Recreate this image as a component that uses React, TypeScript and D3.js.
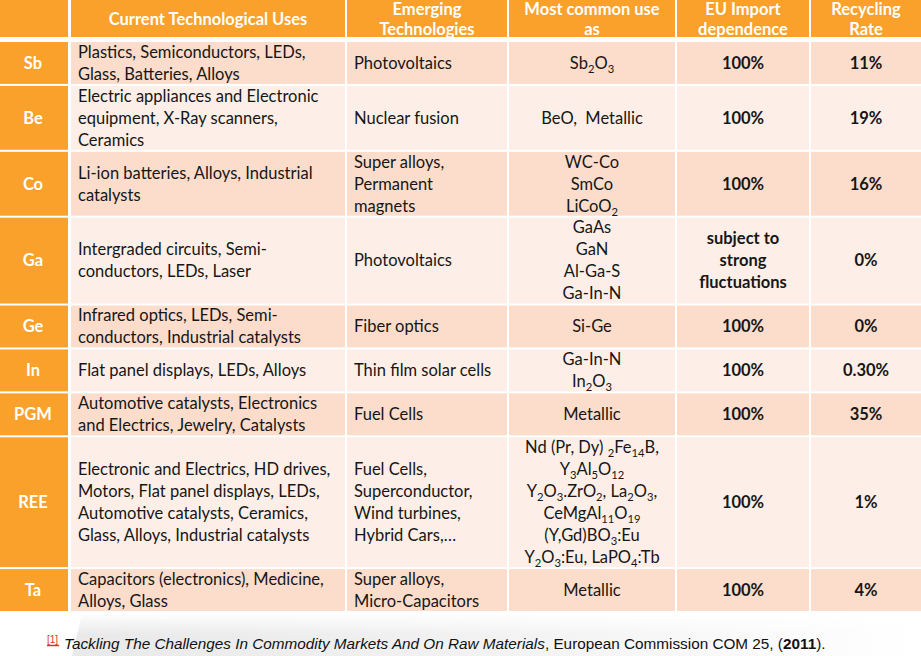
import React from "react";
import * as d3 from "d3";

// table content, one entry per element row
const elements = ["Sb", "Be", "Co", "Ga", "Ge", "In", "PGM", "REE", "Ta"];

const headers = [
  [""],
  ["Current Technological Uses"],
  ["Emerging", "Technologies"],
  ["Most common use", "as"],
  ["EU Import", "dependence"],
  ["Recycling", "Rate"],
];

const currentUses = [
  ["Plastics, Semiconductors, LEDs,", "Glass, Batteries, Alloys"],
  ["Electric appliances and Electronic", "equipment, X-Ray scanners,", "Ceramics"],
  ["Li-ion batteries, Alloys, Industrial", "catalysts"],
  ["Intergraded circuits, Semi-", "conductors, LEDs, Laser"],
  ["Infrared optics, LEDs, Semi-", "conductors, Industrial catalysts"],
  ["Flat panel displays, LEDs, Alloys"],
  ["Automotive catalysts, Electronics", "and Electrics, Jewelry, Catalysts"],
  [
    "Electronic and Electrics, HD drives,",
    "Motors, Flat panel displays, LEDs,",
    "Automotive catalysts, Ceramics,",
    "Glass, Alloys, Industrial catalysts",
  ],
  ["Capacitors (electronics), Medicine,", "Alloys, Glass"],
];

const emergingTech = [
  ["Photovoltaics"],
  ["Nuclear fusion"],
  ["Super alloys,", "Permanent", "magnets"],
  ["Photovoltaics"],
  ["Fiber optics"],
  ["Thin film solar cells"],
  ["Fuel Cells"],
  ["Fuel Cells,", "Superconductor,", "Wind turbines,", "Hybrid Cars,…"],
  ["Super alloys,", "Micro-Capacitors"],
];

// {n} marks a subscript
const commonUse = [
  ["Sb{2}O{3}"],
  ["BeO,\u00a0 Metallic"],
  ["WC-Co", "SmCo", "LiCoO{2}"],
  ["GaAs", "GaN", "Al-Ga-S", "Ga-In-N"],
  ["Si-Ge"],
  ["Ga-In-N", "In{2}O{3}"],
  ["Metallic"],
  [
    "Nd (Pr, Dy) {2}Fe{14}B,",
    "Y{3}Al{5}O{12}",
    "Y{2}O{3}.ZrO{2}, La{2}O{3},",
    "CeMgAl{11}O{19}",
    "(Y,Gd)BO{3}:Eu",
    "Y{2}O{3}:Eu, LaPO{4}:Tb",
  ],
  ["Metallic"],
];

const importDependence = [
  ["100%"],
  ["100%"],
  ["100%"],
  ["subject to", "strong", "fluctuations"],
  ["100%"],
  ["100%"],
  ["100%"],
  ["100%"],
  ["100%"],
];

const recyclingRate = ["11%", "19%", "16%", "0%", "0%", "0.30%", "35%", "1%", "4%"];

const W = 921;
const H = 656;
const ORANGE = "#f9a12b";
const DARK = "#fcddcb";
const LIGHT = "#fdefe7";
const INK = "#161616";
const FONT = "Lato, 'Open Sans', sans-serif";
const LINE = 22;

// column edges [x0, x1]
const cols: [number, number][] = [
  [0, 68],
  [71, 345],
  [347, 507],
  [509, 675],
  [677, 809],
  [811, 921],
];

function Rich({ s, x, y, anchor, weight, size }: any) {
  const parts = s.split(/(\{[^}]+\})/).filter((p: string) => p !== "");
  let shifted = false;
  return (
    <text x={x} y={y} textAnchor={anchor} fontWeight={weight} fontSize={size} fill={INK} fontFamily={FONT}>
      {parts.map((p: string, i: number) => {
        if (p.startsWith("{")) {
          shifted = true;
          return (
            <tspan key={i} dy={4} fontSize={size * 0.68}>
              {p.slice(1, -1)}
            </tspan>
          );
        }
        const dy = shifted ? -4 : 0;
        shifted = false;
        return (
          <tspan key={i} dy={dy}>
            {p}
          </tspan>
        );
      })}
    </text>
  );
}

export default function App() {
  const rows = elements.map((el, i) => ({
    el,
    cells: [currentUses[i], emergingTech[i], commonUse[i], importDependence[i], [recyclingRate[i]]],
  }));
  const counts = rows.map((r) => d3.max(r.cells, (c) => c.length) as number);
  const starts = d3.cumsum([0, ...counts]);
  const y = d3.scaleLinear().domain([0, d3.sum(counts)]).range([42, 613]);

  const fs = 16.5;
  const base = fs * 0.35;

  return (
    <div style={{ position: "absolute", left: 0, top: 0 }}>
      <svg width={W} height={H} style={{ display: "block" }}>
        <defs>
          <linearGradient id="foot" x1="0" x2="1" y1="0" y2="0">
            <stop offset="0" stopColor="#e9e9e9" />
            <stop offset="0.45" stopColor="#f1f1f1" />
            <stop offset="1" stopColor="#ffffff" />
          </linearGradient>
          <linearGradient id="fade" x1="0" x2="0" y1="0" y2="1">
            <stop offset="0" stopColor="#fff" stopOpacity={1} />
            <stop offset="0.5" stopColor="#fff" stopOpacity={0} />
          </linearGradient>
        </defs>
        <rect width={W} height={H} fill="#fff" />
        <path d="M82,614 L921,614 L921,656 L72,656 Z" fill="url(#foot)" />
        <rect x={70} y={613} width={851} height={43} fill="url(#fade)" />

        {/* header */}
        {headers.map((h, j) => {
          const [x0, x1] = cols[j];
          const cy = 19;
          return (
            <g key={"h" + j}>
              <rect x={x0} y={0} width={x1 - x0} height={37} fill={ORANGE} />
              {h.map((t, k) => (
                <text
                  key={k}
                  x={(x0 + x1) / 2}
                  y={cy + (k - (h.length - 1) / 2) * 20 + base}
                  textAnchor="middle"
                  fill="#fff"
                  fontWeight={700}
                  fontSize={fs}
                  fontFamily={FONT}
                >
                  {t}
                </text>
              ))}
            </g>
          );
        })}

        {/* body */}
        {rows.map((r, i) => {
          const top = y(starts[i]);
          const bot = y(starts[i + 1]) - 2;
          const cy = (top + bot) / 2;
          const fill = i % 2 === 0 ? DARK : LIGHT;
          return (
            <g key={r.el}>
              <rect x={cols[0][0]} y={top} width={cols[0][1] - cols[0][0]} height={bot - top} fill={ORANGE} />
              <text
                x={(cols[0][0] + cols[0][1]) / 2 - 1}
                y={cy + base}
                textAnchor="middle"
                fill="#fff"
                fontWeight={700}
                fontSize={fs}
                fontFamily={FONT}
              >
                {r.el}
              </text>
              {r.cells.map((lines, j) => {
                const [x0, x1] = cols[j + 1];
                const left = j < 2;
                const bold = j >= 3;
                return (
                  <g key={j}>
                    <rect x={x0} y={top} width={x1 - x0} height={bot - top} fill={fill} />
                    {lines.map((t, k) => (
                      <Rich
                        key={k}
                        s={t}
                        x={left ? x0 + 7 : (x0 + x1) / 2}
                        y={cy + (k - (lines.length - 1) / 2) * LINE + base}
                        anchor={left ? "start" : "middle"}
                        weight={bold ? 700 : 400}
                        size={fs}
                      />
                    ))}
                  </g>
                );
              })}
            </g>
          );
        })}

        {/* source note */}
        <text x={47} y={643} fontSize={10} fill="#d0392b" fontFamily="'Liberation Sans', Arial, sans-serif">
          [1]
        </text>
        <line x1={47} x2={59} y1={645.5} y2={645.5} stroke="#d0392b" strokeWidth={1.5} />
        <text x={64} y={649} fontSize={15.3} fill="#111" fontFamily="'Liberation Sans', Arial, sans-serif">
          <tspan fontStyle="italic">Tackling The Challenges In Commodity Markets And On Raw Materials</tspan>
          <tspan>, European Commission COM 25, (</tspan>
          <tspan fontWeight={700}>2011</tspan>
          <tspan>).</tspan>
        </text>
      </svg>
    </div>
  );
}
